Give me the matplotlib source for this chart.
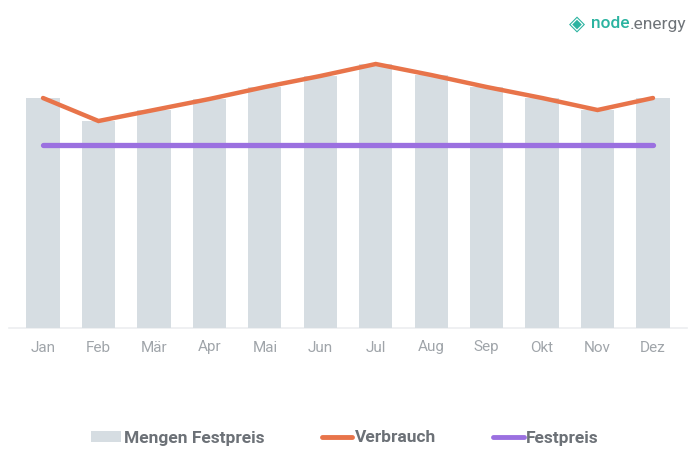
# libraries
import matplotlib.pyplot as plt
from matplotlib.patches import Patch
from matplotlib.lines import Line2D

# data
months = ['Jan', 'Feb', 'Mär', 'Apr', 'Mai', 'Jun', 'Jul', 'Aug', 'Sep', 'Okt', 'Nov', 'Dez']
mengen_festpreis = [230, 207, 218, 229, 241, 252, 264, 253, 241, 230, 218, 230]
verbrauch = [230, 207, 218, 229, 241, 252, 264, 253, 241, 230, 218, 230]
festpreis = [183] * 12

bar_color = '#d6dde2'
orange = '#e8744a'
purple = '#9b70e0'
text_gray = '#6c7177'
tick_gray = '#a0a5aa'

plt.rcParams['font.family'] = ['Roboto', 'DejaVu Sans']

fig = plt.figure(figsize=(6.99, 4.66), dpi=100)
ax = fig.add_axes([15.3 / 699, 138 / 466, 665.4 / 699, 300 / 466])

x = range(len(months))
ax.bar(x, mengen_festpreis, width=0.6, color=bar_color, zorder=1)
ax.plot(x, verbrauch, color=orange, linewidth=3.2, solid_capstyle='round',
        solid_joinstyle='miter', zorder=3)
ax.plot(x, festpreis, color=purple, linewidth=3.8, solid_capstyle='round', zorder=2)

ax.set_xlim(-0.5, 11.5)
ax.set_ylim(0, 300)
ax.axhline(0, xmin=-0.01, xmax=1.01, color='#eceef0', linewidth=1.2, clip_on=False, zorder=0)

for s in ax.spines.values():
    s.set_visible(False)
ax.set_yticks([])
ax.set_xticks(list(x))
ax.set_xticklabels(months, color=tick_gray, fontsize=11)
ax.tick_params(axis='x', length=0, pad=9)

# legend
handles = [
    Patch(facecolor=bar_color, label='Mengen Festpreis'),
    Line2D([0], [0], color=orange, linewidth=3.5, solid_capstyle='round', label='Verbrauch'),
    Line2D([0], [0], color=purple, linewidth=3.5, solid_capstyle='round', label='Festpreis'),
]
leg = fig.legend(handles=handles, loc='center', ncol=3, frameon=False, handlelength=1.75,
                 handleheight=0.6, handletextpad=0.15, columnspacing=3.3,
                 prop={'family': 'Roboto', 'weight': 'bold', 'size': 12.5})
leg.set_bbox_to_anchor((345 / 699, 1 - 438 / 466), transform=fig.transFigure)
for t in leg.get_texts():
    t.set_color(text_gray)

# logo
fig.text(577 / 699, 1 - 24 / 466, '\u25C8', color='#2bb3a0', fontsize=15,
         ha='center', va='center', family='DejaVu Sans')
t1 = fig.text(591 / 699, 1 - 24 / 466, 'node', color='#2bb3a0', fontsize=12.5,
              fontweight='medium', ha='left', va='center')
fig.canvas.draw()
bb = t1.get_window_extent()
fig.text(bb.x1 / 699, 1 - 24 / 466, '.energy', color='#6f7479', fontsize=12.5,
         ha='left', va='center')

fig.savefig('out.png', dpi=100)
